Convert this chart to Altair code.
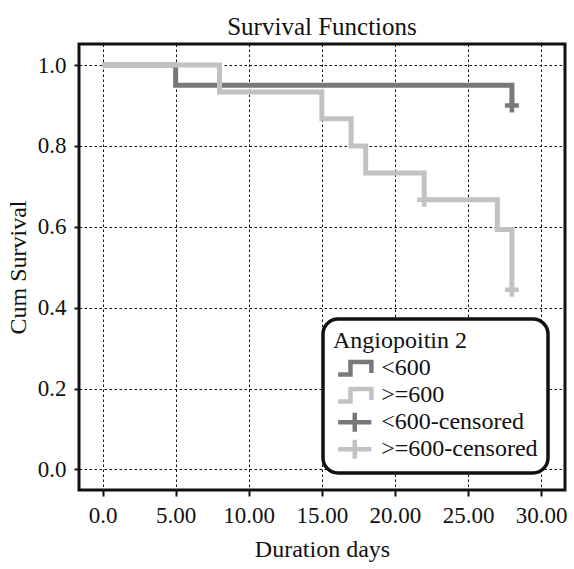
import altair as alt
import pandas as pd

# ---- data ----
low_time = [0, 5, 28]
low_surv = [1.0, 0.95, 0.9]
high_time = [0, 8, 15, 17, 18, 22, 27, 28]
high_surv = [1.0, 0.933, 0.867, 0.8, 0.733, 0.667, 0.593, 0.444]
low_cens_time = [28]
low_cens_surv = [0.9]
high_cens_time = [22, 28]
high_cens_surv = [0.667, 0.444]
legend_labels = ["<600", ">=600", "<600-censored", ">=600-censored"]
x_ticks = [0, 5, 10, 15, 20, 25, 30]
y_ticks = [0.0, 0.2, 0.4, 0.6, 0.8, 1.0]

DARK = "#78787b"
LIGHT = "#c2c2c4"
FONT = "Liberation Serif"
PLUS = "M-1,0H1M0,-1V1"
STEP_ICON = "M-1.75,0.65H-0.45V-0.65H1.75V0.5"
PLUS_ICON = "M-1.75,0H1.75M0,-1V1"

low_df = pd.DataFrame({"t": low_time, "s": low_surv})
high_df = pd.DataFrame({"t": high_time, "s": high_surv})
low_c = pd.DataFrame({"t": low_cens_time, "s": low_cens_surv})
high_c = pd.DataFrame({"t": high_cens_time, "s": high_cens_surv})
leg_df = pd.DataFrame({"cat": legend_labels, "t": [-50] * 4, "s": [-50] * 4})

xs = alt.Scale(domain=[-1.61, 31.63], nice=False, zero=False)
ys = alt.Scale(domain=[-0.051, 1.052], nice=False, zero=False)

x_enc = alt.X("t:Q", scale=xs, axis=alt.Axis(
    values=x_ticks, title="Duration days",
    labelExpr="datum.value == 0 ? '0.0' : format(datum.value, '.2f')",
    labelOverlap=False, labelFlush=False, labelPadding=8, titlePadding=10,
    tickSize=6))
y_enc = alt.Y("s:Q", scale=ys, axis=alt.Axis(
    values=y_ticks, format=".1f", title="Cum Survival",
    labelPadding=8, titlePadding=7, tickSize=5))

def line(df, color):
    return alt.Chart(df).mark_line(interpolate="step-after", strokeWidth=5,
                                   color=color, strokeCap="butt",
                                   strokeJoin="miter").encode(x=x_enc, y=y_enc)

def cens(df, color):
    return alt.Chart(df).mark_point(shape=PLUS, size=196, strokeWidth=4.5,
                                    filled=False, color=color, opacity=1
                                    ).encode(x=x_enc, y=y_enc)

leg = alt.Legend(title="Angiopoitin 2", orient="none", legendX=244, legendY=275,
                 symbolSize=361, symbolStrokeWidth=4.5, symbolOffset=9.75,
                 labelOffset=14.5, rowPadding=0, titlePadding=2, clipHeight=26.5)

legend_layer = alt.Chart(leg_df).mark_point(clip=True, filled=False, opacity=1, strokeWidth=4.5).encode(
    x=x_enc, y=y_enc,
    color=alt.Color("cat:N", scale=alt.Scale(domain=legend_labels,
                                             range=[DARK, LIGHT, DARK, LIGHT]), legend=leg),
    shape=alt.Shape("cat:N", scale=alt.Scale(domain=legend_labels,
                                             range=[STEP_ICON, STEP_ICON, PLUS_ICON, PLUS_ICON]), legend=leg),
)

chart = alt.layer(
    line(low_df, DARK), line(high_df, LIGHT),
    cens(low_c, DARK), cens(high_c, LIGHT),
    legend_layer,
).properties(
    width=486, height=446,
    title=alt.TitleParams("Survival Functions", font=FONT, fontSize=25,
                          fontWeight="normal", color="#111", anchor="middle", offset=4),
    padding={"left": 79, "top": 44, "right": 9, "bottom": 79},
    autosize=alt.AutoSizeParams(type="none"),
    background="white",
).configure_view(
    stroke="#111", strokeWidth=3
).configure_axis(
    labelFont=FONT, labelFontSize=23, labelColor="#111",
    titleFont=FONT, titleFontSize=24, titleFontWeight="normal", titleColor="#111",
    grid=True, gridColor="#111", gridDash=[2.5, 2.5], gridWidth=1, gridOpacity=1,
    domain=False, tickColor="#111", tickWidth=2,
).configure_legend(
    titleFont=FONT, titleFontSize=24, titleFontWeight="normal", titleColor="#111",
    labelFont=FONT, labelFontSize=24, labelColor="#111", labelLimit=400,
    strokeColor="#111", strokeWidth=3.5, cornerRadius=15, fillColor="white",
    padding=10,
)

chart.save("out.html", embed_options={"renderer": "svg", "actions": False})
